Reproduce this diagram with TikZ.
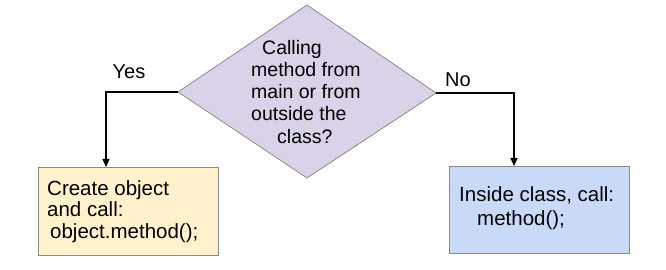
\documentclass[tikz,border=0pt]{standalone}
\usepackage{fontspec}
\setmainfont{Liberation Sans}
\usetikzlibrary{arrows.meta,shapes.geometric}
\definecolor{dfill}{HTML}{D9D2E9}
\definecolor{yfill}{HTML}{FFF2CC}
\definecolor{bfill}{HTML}{C9DAF8}
\definecolor{edge}{HTML}{8A8A8A}
\begin{document}
\begin{tikzpicture}[x=1pt,y=1pt,
  boxstyle/.style={draw=edge,line width=0.8pt},
  txt/.style={font=\fontsize{19.5}{22.2}\selectfont,align=left,inner sep=0pt},
  conn/.style={line width=1.2pt,-{Triangle[length=8pt,width=7pt]}},
  lbl/.style={font=\fontsize{20}{22}\selectfont,inner sep=0pt}]
\useasboundingbox (0,0) rectangle (666,270);
% diamond
\coordinate (dL) at (178,178);
\coordinate (dR) at (436,177);
\coordinate (dT) at (307,265);
\coordinate (dB) at (307,92);
\draw[boxstyle,fill=dfill] (dL) -- (dT) -- (dR) -- (dB) -- cycle;
\node[txt,anchor=north west] (q) at (251,230) {\hspace{11pt}Calling\\method from\\main or from\\outside the\\\hspace{26pt}class?};
% boxes
\node[boxstyle,fill=yfill,minimum width=180pt,minimum height=88pt,inner sep=0pt,anchor=north west] (yes) at (38,103) {};
\node[txt,anchor=north west,font=\fontsize{20.5}{21.8}\selectfont] (yt) at (47,90) {Create object\\and call:\\\hspace{3pt}object.method();};
\node[boxstyle,fill=bfill,minimum width=180pt,minimum height=87pt,inner sep=0pt,anchor=north west] (no) at (449,104) {};
\node[txt,anchor=north west,font=\fontsize{20.5}{24}\selectfont] (nt) at (459,84) {Inside class, call:\\\hspace{18pt}method();};
% connectors
\coordinate (yc) at (106,178);
\coordinate (nc) at (514,177);
\draw[conn] (dL) -- (yc) -- (yc |- yes.north);
\draw[conn] (dR) -- (nc) -- (nc |- no.north);
\node[lbl] (ylbl) at (129,198) {Yes};
\node[lbl] (nlbl) at (458,190) {No};
\end{tikzpicture}
\end{document}
